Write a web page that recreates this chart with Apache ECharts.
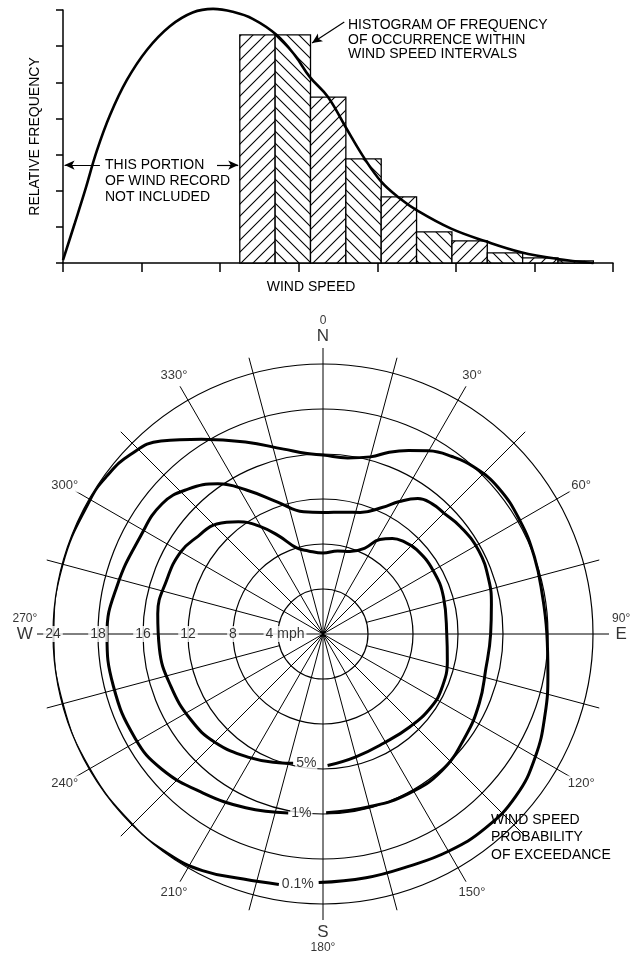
<!DOCTYPE html>
<html>
<head>
<meta charset="utf-8">
<title>Wind speed distribution</title>
<script src="https://cdn.jsdelivr.net/npm/echarts@6/dist/echarts.min.js"></script>
<style>
html, body { margin: 0; padding: 0; background: #fff; }
#main { width: 641px; height: 953px; }
</style>
</head>
<body>
<div id="main"></div>
<script>
// histogram (wind speed intervals) and the fitted frequency curve
var binEdges = [2.25, 2.7, 3.15, 3.6, 4.05, 4.5, 4.95, 5.4, 5.85, 6.3, 6.75];
var binHeights = [6.31, 6.31, 4.59, 2.88, 1.83, 0.86, 0.61, 0.28, 0.14, 0.06];
var curveX = [0, 0.15, 0.28, 0.43, 0.6, 0.81, 1.07, 1.36, 1.65, 1.91, 2.16, 2.42, 2.72, 2.95, 3.14, 3.37, 3.6, 3.82, 4.05, 4.28, 4.51, 4.94, 5.38, 5.83, 6.27, 6.75];
var curveY = [0.08, 1.1, 2.0, 3.1, 4.1, 5.05, 5.9, 6.55, 6.93, 7.03, 6.95, 6.75, 6.31, 5.75, 5.15, 4.6, 3.75, 2.95, 2.25, 1.8, 1.45, 0.95, 0.6, 0.3, 0.12, 0];

// polar chart: rings, labels along the west radius
var ringValues = [4, 8, 12, 16, 20, 24];
var ringLabels = ['4 mph', '8', '12', '16', '18', '24'];
var shortSpokes = [75, 105, 255, 285];   // these start at the first ring
var degreeAngles = [30, 60, 120, 150, 210, 240, 300, 330];
var compassAngles = [0, 90, 180, 270];
var compassNames = ['N', 'E', 'S', 'W'];
var compassDegrees = ['0', '90°', '180°', '270°'];

// exceedance curves (angle in degrees, wind speed on ring scale)
var angle5 = [193, 199, 211, 225, 237, 251, 265, 277, 289, 300, 308, 316, 323, 330, 336, 343, 350, 0, 10, 18, 26, 31, 36, 41, 48, 60, 73, 90, 102, 114, 124, 137, 151, 165, 178];
var speed5 = [11.8, 12.1, 12.8, 13.6, 14.0, 14.3, 14.6, 14.8, 14.7, 14.6, 14.1, 13.6, 12.5, 11.0, 9.5, 8.0, 7.5, 7.2, 7.5, 7.7, 8.5, 9.8, 10.5, 10.9, 11.2, 11.3, 11.2, 11.0, 11.3, 11.6, 11.6, 11.3, 11.1, 11.3, 11.7];
var angle1 = [191, 204, 217, 230, 241, 256, 270, 283, 298, 309, 317, 325, 332, 341, 351, 0, 10, 17, 25, 30, 35, 40, 45, 52, 62, 72, 80, 90, 102, 114, 126, 139, 152, 165, 179];
var speed1 = [16.2, 16.9, 17.7, 18.7, 19.1, 19.2, 19.2, 18.8, 18.4, 18.4, 17.6, 16.3, 14.5, 12.4, 11.0, 10.8, 11.0, 11.3, 12.4, 13.6, 14.7, 15.1, 15.2, 15.5, 15.7, 15.5, 15.2, 14.9, 14.8, 15.2, 15.6, 16.1, 16.1, 15.9, 15.9];
var angle01 = [190, 198, 207, 215, 225, 240, 255, 270, 285, 300, 306, 313, 320, 328, 338, 348, 355, 0, 8, 15, 20, 25, 30, 36, 42, 50, 60, 70, 80, 90, 100, 110, 120, 130, 140, 150, 160, 170, 181];
var speed01 = [22.6, 22.9, 23.6, 23.9, 24.0, 24.0, 24.0, 24.0, 24.0, 23.9, 23.8, 23.4, 22.4, 20.4, 18.4, 16.8, 16.1, 15.9, 15.8, 16.3, 17.2, 18.0, 18.8, 19.5, 20.0, 20.3, 20.2, 20.0, 19.8, 19.9, 20.3, 21.0, 21.8, 22.4, 22.5, 22.3, 22.0, 22.0, 22.1];
var pctNames = ['5%', '1%', '0.1%'];

var FONT = '"Liberation Sans", Arial, Helvetica, sans-serif';
var INK = '#000';

// diagonal hatch tiles for the histogram bars
function hatch(dir) {
    var c = document.createElement('canvas');
    c.width = 12; c.height = 12;
    var g = c.getContext('2d');
    g.fillStyle = '#fff';
    g.fillRect(0, 0, 12, 12);
    g.strokeStyle = INK;
    g.lineWidth = 1.1;
    g.beginPath();
    if (dir > 0) {
        g.moveTo(-2, 14); g.lineTo(14, -2);
        g.moveTo(-2, 2); g.lineTo(2, -2);
        g.moveTo(10, 14); g.lineTo(14, 10);
    } else {
        g.moveTo(-2, -2); g.lineTo(14, 14);
        g.moveTo(10, -2); g.lineTo(14, 2);
        g.moveTo(-2, 10); g.lineTo(2, 14);
    }
    g.stroke();
    return { image: c, repeat: 'repeat' };
}
var hatches = [hatch(1), hatch(-1)];

function pairs(speeds, angles) {
    return speeds.map(function (s, i) { return [s, angles[i]]; });
}

// spoke colours: one entry per 15 degree tick
var spokesFull = [], spokesShort = [];
for (var a = 0; a < 360; a += 15) {
    var isShort = shortSpokes.indexOf(a) >= 0;
    spokesFull.push(isShort ? 'rgba(0,0,0,0)' : INK);
    spokesShort.push(isShort ? INK : 'rgba(0,0,0,0)');
}

var myChart = echarts.init(document.getElementById('main'));

var hiddenRadius = function (i) {
    return { polarIndex: i, type: 'value', min: 0, max: 24, show: false };
};
var spokeAngle = function (i, colors) {
    return {
        polarIndex: i, type: 'value', min: 0, max: 360, interval: 15,
        startAngle: 90, clockwise: true,
        axisLine: { show: false }, axisTick: { show: false }, axisLabel: { show: false },
        splitLine: { show: true, lineStyle: { color: colors, width: 1 } }
    };
};

var curveStyle = function (name, speeds, angles) {
    return {
        name: name, type: 'line', coordinateSystem: 'polar', polarIndex: 0,
        data: pairs(speeds, angles), smooth: 0.45, symbol: 'none', clip: false,
        lineStyle: { color: INK, width: 3 }, z: 3
    };
};

var option = {
    animation: false,
    backgroundColor: '#fff',
    textStyle: { fontFamily: FONT, color: INK },
    grid: { left: 63, right: 28, top: 10, bottom: 690 },
    xAxis: {
        type: 'value', min: 0, max: 7, interval: 1,
        name: 'WIND SPEED', nameLocation: 'middle', nameGap: 17,
        nameTextStyle: { fontSize: 14, color: INK, padding: [0, 54, 0, 0] },
        axisLine: { show: true, lineStyle: { color: INK, width: 1.5 } },
        axisTick: { show: true, length: 9, lineStyle: { color: INK, width: 1.5 } },
        axisLabel: { show: false }, splitLine: { show: false }
    },
    yAxis: {
        type: 'value', min: 0, max: 7, interval: 1,
        name: 'RELATIVE FREQUENCY', nameLocation: 'middle', nameGap: 21, nameRotate: 90,
        nameTextStyle: { fontSize: 14, color: INK },
        axisLine: { show: true, lineStyle: { color: INK, width: 1.5 } },
        axisTick: { show: true, length: 7, lineStyle: { color: INK, width: 1.5 } },
        axisLabel: { show: false }, splitLine: { show: false }
    },
    polar: [
        { center: [323, 634], radius: 270 },
        { center: [323, 634], radius: 286 },
        { center: [323, 634], radius: [45, 286] }
    ],
    radiusAxis: [
        {
            polarIndex: 0, type: 'value', min: 0, max: 24, interval: 4,
            axisLine: { show: false }, axisTick: { show: false }, axisLabel: { show: false },
            splitLine: { show: true, lineStyle: { color: INK, width: 1.2 } },
            splitArea: { show: false }
        },
        hiddenRadius(1),
        hiddenRadius(2)
    ],
    angleAxis: [
        {
            polarIndex: 0, type: 'value', min: 0, max: 360, startAngle: 90, clockwise: true,
            axisLine: { show: false }, axisTick: { show: false }, axisLabel: { show: false },
            splitLine: { show: false }
        },
        spokeAngle(1, spokesFull),
        spokeAngle(2, spokesShort)
    ],
    graphic: [
        {
            type: 'text', left: 348, top: 18,
            style: { text: 'HISTOGRAM OF FREQUENCY\nOF OCCURRENCE WITHIN\nWIND SPEED INTERVALS', fontSize: 14, fontFamily: FONT, lineHeight: 14.5, fill: INK }
        },
        {
            type: 'text', left: 105, top: 157,
            style: { text: 'THIS PORTION\nOF WIND RECORD\nNOT INCLUDED', fontSize: 14, fontFamily: FONT, lineHeight: 16, fill: INK }
        },
        {
            type: 'text', left: 491, top: 811,
            style: { text: 'WIND SPEED\nPROBABILITY\nOF EXCEEDANCE', fontSize: 14, fontFamily: FONT, lineHeight: 17.5, fill: INK }
        }
    ],
    series: [
        {
            name: 'histogram', type: 'custom',
            data: binHeights.map(function (h, i) { return [binEdges[i], binEdges[i + 1], h]; }),
            encode: { x: [0, 1], y: 2 },
            renderItem: function (params, api) {
                var p0 = api.coord([api.value(0), api.value(2)]);
                var p1 = api.coord([api.value(1), 0]);
                return {
                    type: 'rect',
                    shape: { x: p0[0], y: p0[1], width: p1[0] - p0[0], height: p1[1] - p0[1] },
                    style: { fill: hatches[params.dataIndex % 2], stroke: INK, lineWidth: 1.3 }
                };
            },
            z: 2
        },
        {
            name: 'frequency', type: 'line',
            data: curveX.map(function (x, i) { return [x, curveY[i]]; }),
            smooth: 0.4, symbol: 'none', clip: false,
            lineStyle: { color: INK, width: 2.6 }, z: 3,
            markLine: {
                silent: true, symbol: ['none', 'arrow'], symbolSize: [7, 10],
                label: { show: false },
                lineStyle: { color: INK, width: 1.2, type: 'solid' },
                data: [
                    [{ coord: [0.47, 2.71] }, { coord: [0.02, 2.71] }],
                    [{ coord: [1.96, 2.71] }, { coord: [2.23, 2.71] }],
                    [{ coord: [3.58, 6.67] }, { coord: [3.17, 6.09] }]
                ]
            }
        },
        curveStyle('5%', speed5, angle5),
        curveStyle('1%', speed1, angle1),
        curveStyle('0.1%', speed01, angle01),
        {
            name: 'pct labels', type: 'scatter', coordinateSystem: 'polar', polarIndex: 0,
            clip: false, symbolSize: 0, z: 6,
            data: [[speed5[0], angle5[0]], [speed1[0], angle1[0]], [speed01[0], angle01[0]]],
            label: {
                show: true, position: 'right', distance: 2, fontSize: 14, color: INK,
                backgroundColor: '#fff', padding: [0, 1],
                formatter: function (p) { return pctNames[p.dataIndex]; }
            }
        },
        {
            name: 'ring labels', type: 'scatter', coordinateSystem: 'polar', polarIndex: 0,
            clip: false, symbolSize: 0, z: 6,
            data: ringValues.map(function (r, i) {
                var item = { value: [r, 270] };
                if (i === 0) item.label = { offset: [7, 0] };
                return item;
            }),
            label: {
                show: true, position: 'inside', fontSize: 14, color: INK,
                backgroundColor: '#fff', padding: [1, 2],
                formatter: function (p) { return ringLabels[p.dataIndex]; }
            }
        },
        {
            name: 'degree labels', type: 'scatter', coordinateSystem: 'polar', polarIndex: 0,
            clip: false, symbolSize: 0, z: 6,
            data: degreeAngles.map(function (a) { return [26.5, a]; }),
            label: {
                show: true, position: 'inside', fontSize: 13, color: INK,
                backgroundColor: '#fff', padding: [1, 2],
                formatter: function (p) { return degreeAngles[p.dataIndex] + '°'; }
            }
        },
        {
            name: 'compass', type: 'scatter', coordinateSystem: 'polar', polarIndex: 0,
            clip: false, symbolSize: 0, z: 6,
            data: compassAngles.map(function (a) { return [26.5, a]; }),
            label: {
                show: true, position: 'inside', color: INK, lineHeight: 13,
                formatter: function (p) {
                    var i = p.dataIndex;
                    if (compassNames[i] === 'S') {
                        return '{d| }\n{c|S}\n{d|' + compassDegrees[i] + '}';
                    }
                    return '{d|' + compassDegrees[i] + '}\n{c|' + compassNames[i] + '}\n{d| }';
                },
                rich: {
                    d: { fontSize: 12, lineHeight: 13, color: INK },
                    c: { fontSize: 17, lineHeight: 18, color: INK }
                }
            }
        }
    ]
};
myChart.setOption(option);
</script>
</body>
</html>
